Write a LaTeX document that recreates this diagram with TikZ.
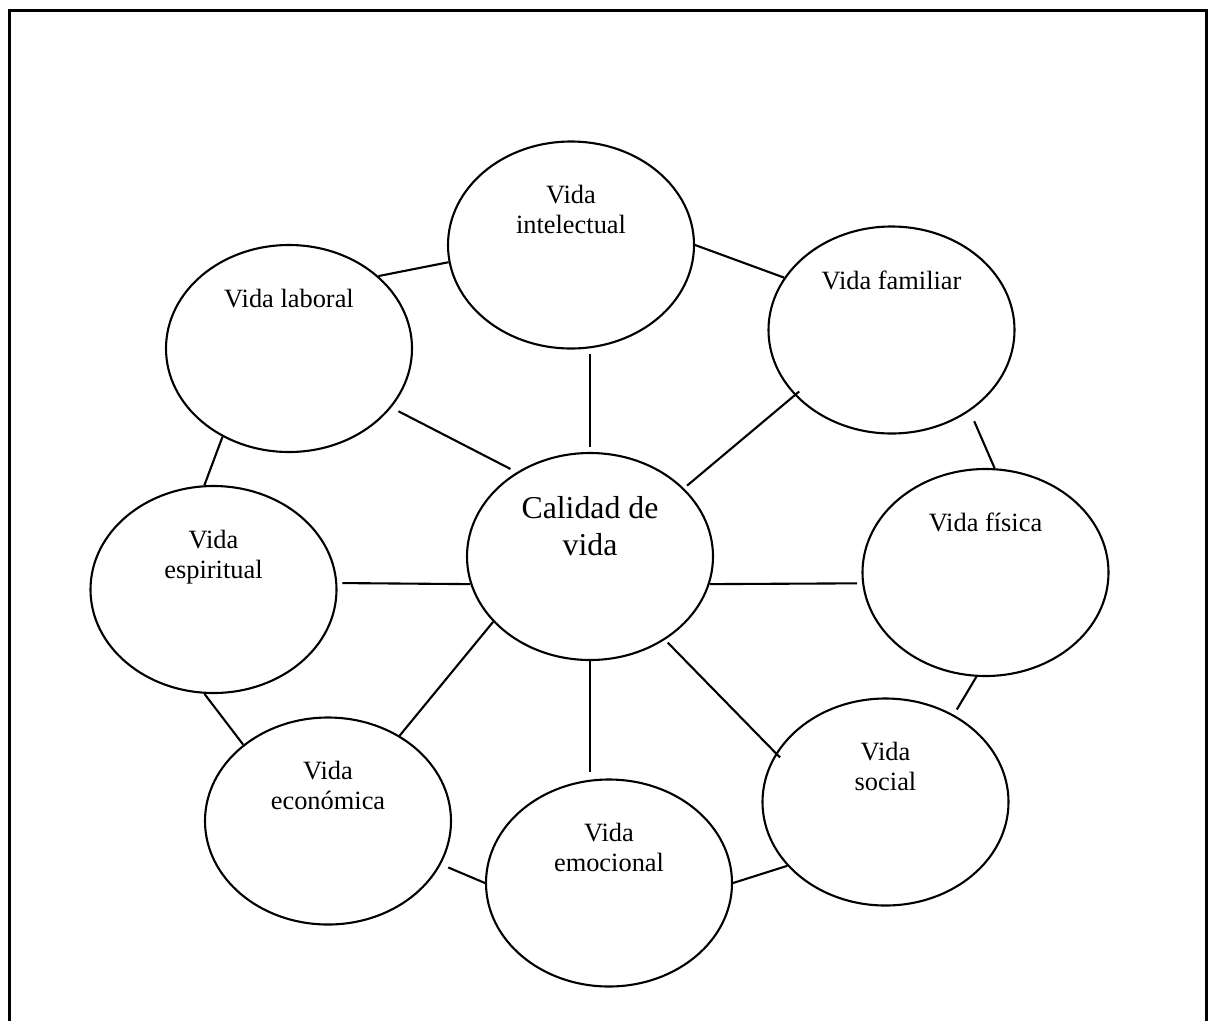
\documentclass[tikz,border=0pt]{standalone}
\usepackage{fontspec}
\setmainfont{Liberation Serif}
\usetikzlibrary{shapes.geometric}
\begin{document}
\begin{tikzpicture}[x=1pt,y=-1pt,
  oval/.style={ellipse, draw, line width=2.1pt, minimum width=246pt, minimum height=207pt, inner sep=0pt},
  lbl/.style={anchor=north, inner sep=0pt, align=center, font=\fontsize{26.4}{30}\selectfont},
  biglbl/.style={anchor=north, inner sep=0pt, align=center, font=\fontsize{31.8}{37}\selectfont},
  link/.style={line width=2.1pt}]
\useasboundingbox (0,0) rectangle (1209,1021);
\draw[line width=3pt] (9,1021) -- (9,10.5) -- (1206,10.5) -- (1206,1021);

% ellipses
\node[oval] (cen) at (590,556.5) {};
\node[oval] (int) at (571,245) {};
\node[oval] (fam) at (891.5,330) {};
\node[oval] (fis) at (985.5,572.5) {};
\node[oval] (soc) at (885.5,802) {};
\node[oval] (emo) at (609,883) {};
\node[oval] (eco) at (328,821) {};
\node[oval] (esp) at (213.5,589.5) {};
\node[oval] (lab) at (289,348.5) {};

% texts
\node[biglbl] (cenT) at ([yshift=-44pt]cen.north) {Calidad de\\vida};
\node[lbl] (intT) at ([yshift=-45pt]int.north) {Vida\\intelectual};
\node[lbl] (famT) at ([yshift=-45pt]fam.north) {Vida familiar};
\node[lbl] (fisT) at ([yshift=-45pt]fis.north) {Vida física};
\node[lbl] (socT) at ([yshift=-45pt]soc.north) {Vida\\social};
\node[lbl] (emoT) at ([yshift=-45pt]emo.north) {Vida\\emocional};
\node[lbl] (ecoT) at ([yshift=-45pt]eco.north) {Vida\\económica};
\node[lbl] (espT) at ([yshift=-45pt]esp.north) {Vida\\espiritual};
\node[lbl] (labT) at ([yshift=-45pt]lab.north) {Vida laboral};

% connectors
\draw[link] (lab.39) -- (int.188);
\draw[link] (int.east) -- (fam.154);
\draw[link, shorten <=8pt, shorten >=7pt] (lab.330) -- (cen.131);
\draw[link, shorten <=4pt, shorten >=5pt] (cen.north |- int.south) -- (cen.north);
\draw[link, shorten <=-6pt, shorten >=4pt] (fam.214) -- (cen.36);
\draw[link, shorten <=11pt] (fam.314) -- (fis.85);
\draw[link] (lab.233) -- (esp.95);
\draw[link, shorten <=5pt] (esp.3) -- (cen.193);
\draw[link, shorten >=5pt] (cen.347) -- (fis.185);
\draw[link] (esp.265) -- (eco.138);
\draw[link] (cen.214) -- (eco.50);
\draw[link, shorten >=6pt] (cen.south) -- (cen.south |- emo.north);
\draw[link, shorten <=4pt, shorten >=-6pt] (cen.312) -- (soc.156);
\draw[link, shorten >=6pt] (fis.265) -- (soc.52);
\draw[link, shorten <=8pt] (eco.339) -- (emo.west);
\draw[link] (emo.east) -- (soc.213);
\end{tikzpicture}
\end{document}
